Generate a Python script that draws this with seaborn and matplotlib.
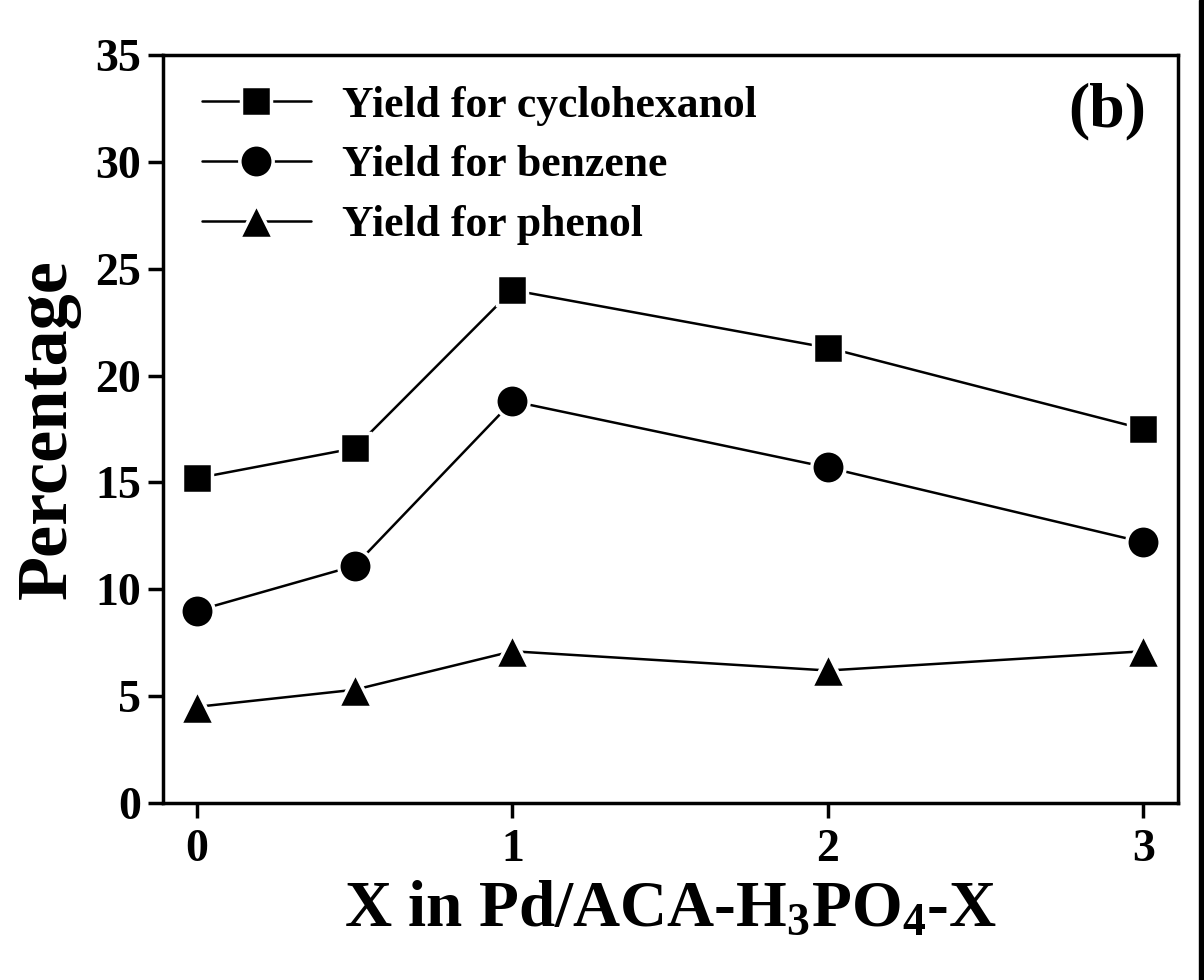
import pandas as pd
import numpy as np
import matplotlib.pyplot as plt
import seaborn as sns

# Data
x_values = [0, 0.5, 1, 2, 3]
yield_cyclohexanol = [15.2, 16.6, 24.0, 21.3, 17.5]
yield_benzene = [9.0, 11.1, 18.8, 15.7, 12.2]
yield_phenol = [4.5, 5.3, 7.1, 6.2, 7.1]
series_names = ['Yield for cyclohexanol', 'Yield for benzene', 'Yield for phenol']

df = pd.DataFrame({
    'X': x_values * 3,
    'value': yield_cyclohexanol + yield_benzene + yield_phenol,
    'series': [s for s in series_names for _ in x_values],
})

sns.set_style('ticks')
plt.rcParams['font.family'] = ['Liberation Serif', 'DejaVu Serif']
plt.rcParams['font.weight'] = 'bold'
plt.rcParams['axes.labelweight'] = 'bold'
plt.rcParams['text.color'] = 'black'
plt.rcParams['axes.labelcolor'] = 'black'
plt.rcParams['mathtext.fontset'] = 'custom'
plt.rcParams['mathtext.rm'] = 'Liberation Serif:bold'
plt.rcParams['mathtext.bf'] = 'Liberation Serif:bold'
plt.rcParams['mathtext.it'] = 'Liberation Serif:bold'

fig = plt.figure(figsize=(12.04, 9.8), dpi=100)
ax = fig.add_axes([163/1204, 1 - 803/980, (1178-163)/1204, (803-55)/980])

markers = {'Yield for cyclohexanol': ('s', 21), 'Yield for benzene': ('o', 24), 'Yield for phenol': ('^', 24)}
for name in series_names:
    m, ms = markers[name]
    sns.lineplot(data=df[df['series'] == name], x='X', y='value', ax=ax, color='black',
                 linewidth=1.8, marker=m, markersize=ms, markeredgecolor='white',
                 markeredgewidth=2.5, label=name)

ax.set_xlim(-0.108, 3.11)
ax.set_ylim(0, 35)
ax.set_xticks([0, 1, 2, 3])
ax.set_yticks(np.arange(0, 36, 5))
for s in ax.spines.values():
    s.set_linewidth(2.5)
    s.set_color('black')
ax.tick_params(direction='out', length=11, width=2.5, labelsize=33, pad=5, colors='black')
ax.tick_params(axis='x', pad=8)
ax.set_xlabel('X in Pd/ACA-H$_\\mathbf{3}$PO$_\\mathbf{4}$-X', fontsize=47, fontweight='bold', labelpad=6)
ax.set_ylabel('Percentage', fontsize=52, fontweight='bold', labelpad=10)

ax.text(0.969, 0.924, '(b)', transform=ax.transAxes, fontsize=46, fontweight='bold', ha='right', va='center')

leg = ax.legend(loc='upper left', frameon=False, fontsize=31.5, handlelength=2.5, handletextpad=0.7,
                labelspacing=0.45, borderaxespad=0.3, bbox_to_anchor=(0.008, 1.0))

fig.patches.append(plt.Rectangle((1199/1204, 0), 5/1204, 1, transform=fig.transFigure, color='black'))

fig.savefig('out.png', dpi=100)
